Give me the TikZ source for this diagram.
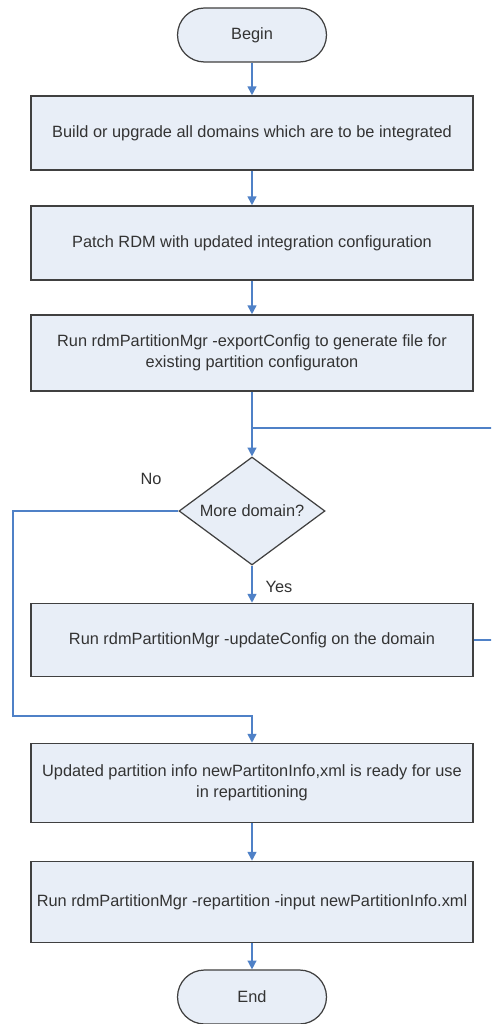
\documentclass[tikz,border=0pt]{standalone}
\usepackage{fontspec}
\setmainfont{Liberation Sans}
\usetikzlibrary{arrows.meta,shapes.geometric}
\definecolor{boxfill}{RGB}{232,238,247}
\definecolor{boxline}{RGB}{64,64,64}
\definecolor{flowblue}{RGB}{79,129,199}
\tikzset{
	stepbox/.style={draw=boxline, fill=boxfill, line width=0.9pt, minimum width=8.84cm, align=center, inner sep=1pt},
	termbox/.style={draw=boxline, fill=boxfill, line width=0.7pt, rounded corners=0.54cm, minimum width=2.98cm, minimum height=1.08cm},
	decbox/.style={draw=boxline, fill=boxfill, line width=0.7pt, diamond, aspect=1.35, minimum width=2.92cm, minimum height=2.16cm, inner sep=0pt},
	flow/.style={draw=flowblue, line width=0.9pt, -{Triangle[width=5pt,length=5pt]}},
	loopline/.style={draw=flowblue, line width=0.9pt},
}
\begin{document}
\begin{tikzpicture}[x=0.02cm, y=-0.02cm, font=\fontsize{9.3}{11.8}\selectfont, text=black!80]
	\clip (0,0) rectangle (491,1024);
	\fill[white] (0,0) rectangle (491,1024);
	% nodes
	\node[termbox] (begin) at (252,35) {Begin};
	\node[stepbox, minimum height=1.48cm] (build) at (252,133) {Build or upgrade all domains which are to be integrated};
	\node[stepbox, minimum height=1.48cm] (patch) at (252,243) {Patch RDM with updated integration configuration};
	\node[stepbox, minimum height=1.52cm] (export) at (252,353) {Run rdmPartitionMgr -exportConfig to generate file for\\existing partition configuraton};
	\node[decbox] (more) at (252,511) {More domain?};
	\node[stepbox, minimum height=1.46cm] (update) at (252,640) {Run rdmPartitionMgr -updateConfig on the domain};
	\node[stepbox, minimum height=1.58cm] (ready) at (252,783) {Updated partition info newPartitonInfo,xml is ready for use\\in repartitioning};
	\node[stepbox, minimum height=1.62cm] (repart) at (252,902) {Run rdmPartitionMgr -repartition -input newPartitionInfo.xml};
	\node[termbox] (end) at (252,997) {End};
	\node (no) at (151,479) {No};
	\node (yes) at (279,587) {Yes};
	\coordinate (merge) at (252,428);
	\coordinate (loopright) at (500,640);
	\coordinate (noleft) at (13,716);
	% connectors
	\draw[flow] (begin) -- (build);
	\draw[flow] (build) -- (patch);
	\draw[flow] (patch) -- (export);
	\draw[flow] (export) -- (more);
	\draw[flow] (more) -- (update);
	\draw[loopline] (update.east) -- (loopright) |- (merge);
	\draw[flow] (more.west) -| (noleft) -| (ready.north);
	\draw[flow] (ready) -- (repart);
	\draw[flow] (repart) -- (end);
\end{tikzpicture}
\end{document}
